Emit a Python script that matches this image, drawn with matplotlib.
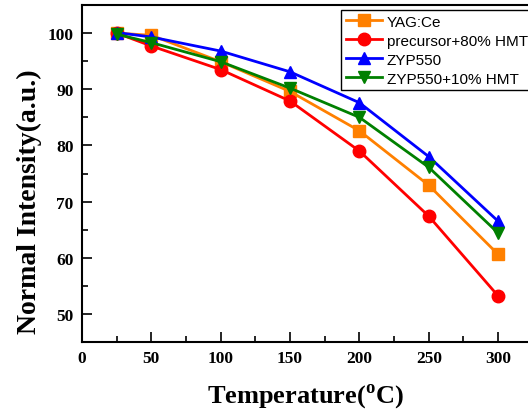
import numpy as np
import matplotlib
matplotlib.use('Agg')
import matplotlib.pyplot as plt
from matplotlib.ticker import MultipleLocator

##### données #####
temperature = [25, 50, 100, 150, 200, 250, 300]
yag = [100.0, 99.6, 94.9, 89.6, 82.6, 72.9, 60.6]
precursor = [100.0, 97.7, 93.5, 87.9, 79.0, 67.4, 53.2]
zyp550 = [100.1, 99.3, 96.8, 93.1, 87.6, 78.0, 66.5]
zyp550_hmt = [99.8, 98.3, 94.9, 90.2, 85.0, 76.1, 64.4]

labels = ["YAG:Ce", "precursor+80% HMT", "ZYP550", "ZYP550+10% HMT"]
couleurs = ["#FF8000", "#FF0000", "#0000FF", "#008000"]
marqueurs = ["s", "o", "^", "v"]

plt.rcParams['mathtext.fontset'] = 'custom'
plt.rcParams['mathtext.rm'] = 'Liberation Serif:bold'

fig = plt.figure(figsize=(5.28, 4.14), dpi=100)
# axe qui déborde à droite comme sur l'image d'origine
ax = fig.add_axes([82/528, 71/414, (532.8-82)/528, (343-6)/414])

series = [yag, precursor, zyp550, zyp550_hmt]
for s, lab, c, m in zip(series, labels, couleurs, marqueurs):
    ax.plot(temperature, s, color=c, marker=m, markersize=9, linewidth=2, label=lab)

ax.set_xlim(0, 325)
ax.set_ylim(45, 105)
ax.xaxis.set_major_locator(MultipleLocator(50))
ax.xaxis.set_minor_locator(MultipleLocator(25))
ax.yaxis.set_major_locator(MultipleLocator(10))
ax.yaxis.set_minor_locator(MultipleLocator(5))
ax.set_yticks([50, 60, 70, 80, 90, 100])
ax.tick_params(which='both', direction='in', width=1.2)
ax.tick_params(which='major', length=7, pad=6)
ax.tick_params(which='minor', length=4)
for t in ax.get_xticklabels() + ax.get_yticklabels():
    t.set_fontfamily('Liberation Serif')
    t.set_fontweight('bold')
    t.set_fontsize(12.5)
for sp in ['left', 'bottom', 'top']:
    ax.spines[sp].set_linewidth(1.5)
ax.spines['right'].set_visible(False)

ax.set_xlabel(r'Temperature($^\mathrm{o}$C)', fontfamily='Liberation Serif',
              fontweight='bold', fontsize=19)
ax.xaxis.set_label_coords(0.496, -0.115)
ax.set_ylabel('Normal Intensity(a.u.)', fontfamily='Liberation Serif',
              fontweight='bold', fontsize=20)
ax.yaxis.set_label_coords(-0.089, 0.42)

leg = ax.legend(loc='upper left', bbox_to_anchor=(341/528, 1 - 11/414),
                bbox_transform=fig.transFigure, fancybox=False, framealpha=1,
                edgecolor='black', prop={'family': 'Liberation Sans', 'size': 11},
                handlelength=2.4, handletextpad=0.3, labelspacing=0.33,
                borderpad=0.3, borderaxespad=0)
leg.get_frame().set_linewidth(1.0)

fig.savefig('out.png', dpi=100)
